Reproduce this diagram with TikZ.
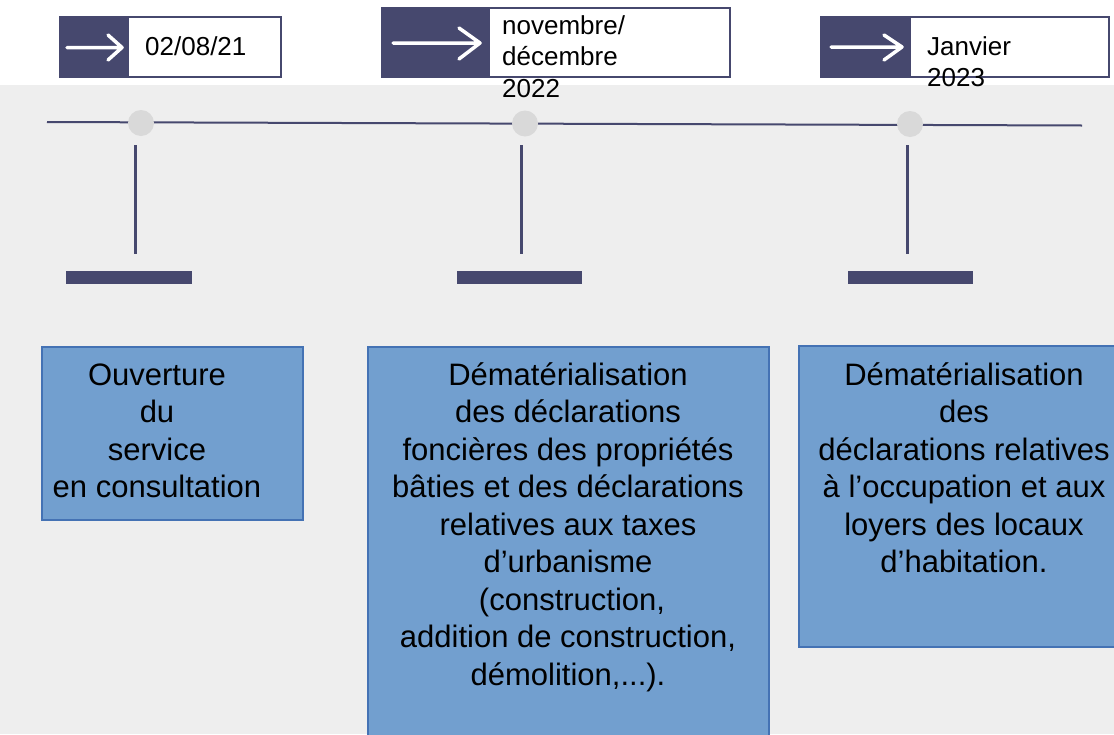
\documentclass[tikz,border=0pt]{standalone}
\usepackage{fontspec}
\setmainfont{Liberation Sans}
\definecolor{navy}{RGB}{70,72,110}
\definecolor{bggray}{RGB}{238,238,238}
\definecolor{dotgray}{RGB}{217,217,217}
\definecolor{bluefill}{RGB}{114,159,207}
\definecolor{blueedge}{RGB}{68,114,180}
\begin{document}
\begin{tikzpicture}[x=1pt,y=-1pt,
  datebox/.style={rectangle, draw=navy, line width=1.5pt, fill=white, inner sep=0, anchor=north west},
  darkbox/.style={rectangle, fill=navy, inner sep=0, anchor=north west},
  datetext/.style={font=\fontsize{26}{31.5}\selectfont, align=left, anchor=base west, inner sep=0},
  desc/.style={font=\fontsize{31}{37.5}\selectfont, align=center, anchor=base, inner sep=0},
  bluebox/.style={rectangle, draw=blueedge, line width=1.5pt, fill=bluefill, inner sep=0, anchor=north west},
  dot/.style={circle, fill=dotgray, minimum size=26pt, inner sep=0},
  arrowicon/.style={white, line width=3.5pt, line cap=round, line join=round},
  stem/.style={navy, line width=3pt},
  bar/.style={fill=navy}]
\clip (0,0) rectangle (1114,734);
\fill[white] (0,0) rectangle (1114,85);
\fill[bggray] (0,85) rectangle (1114,734);

% date boxes
\node[datebox, minimum width=221pt, minimum height=60pt] (d1) at (59,16) {};
\node[darkbox, minimum width=70pt, minimum height=60pt] (k1) at (59,16) {};
\draw[arrowicon] (67,47.5) -- (122,47.5) (108,35) -- (122,47.5) -- (108,60);
\node[datetext] (t1) at (145,55) {02/08/21};

\node[datebox, minimum width=348pt, minimum height=69pt] (d2) at (381,7) {};
\node[darkbox, minimum width=109pt, minimum height=69pt] (k2) at (381,7) {};
\draw[arrowicon] (393,43) -- (480,43) (459,28) -- (480,43) -- (459,59);
\node[datetext] (t2) at (502,97) {novembre/\\décembre\\2022};

\node[datebox, minimum width=288pt, minimum height=60pt] (d3) at (820,16) {};
\node[darkbox, minimum width=91pt, minimum height=60pt] (k3) at (820,16) {};
\draw[arrowicon] (831,47) -- (902,47) (884,35) -- (902,47) -- (884,60);
\node[datetext] (t3) at (927,86.5) {Janvier\\2023};

% timeline
\coordinate (tl) at (47,122);
\coordinate (tr) at (1082,125.5);
\draw[navy, line width=2pt] (tl) -- (tr);
\node[dot] (c1) at (141,123) {};
\node[dot] (c2) at (525,123.5) {};
\node[dot] (c3) at (910,124) {};

% stems and bars
\draw[stem] (135.5,145) -- (135.5,254);
\draw[stem] (521.5,145) -- (521.5,254);
\draw[stem] (907.5,145) -- (907.5,254);
\fill[bar] (66,271) rectangle (191.5,283.5);
\fill[bar] (457,271) rectangle (582,283.5);
\fill[bar] (848,271) rectangle (973,283.5);

% description boxes
\node[bluebox, minimum width=261pt, minimum height=173pt] (b1) at (41,346) {};
\node[bluebox, minimum width=401pt, minimum height=400pt] (b2) at (367,346) {};
\node[bluebox, minimum width=330pt, minimum height=301pt] (b3) at (798,345) {};

\node[desc] (x1) at (157,497.5) {Ouverture\\du\\service\\en consultation};
\node[desc] (x2) at (568,685) {Dématérialisation\\des déclarations\\foncières des propriétés\\bâties et des déclarations\\relatives aux taxes\\d’urbanisme\\\hspace*{8pt}(construction,\\addition de construction,\\démolition,...).};
\node[desc] (x3) at (964,572.5) {Dématérialisation\\des\\déclarations relatives\\à l’occupation et aux\\loyers des locaux\\d’habitation.};
\end{tikzpicture}
\end{document}
